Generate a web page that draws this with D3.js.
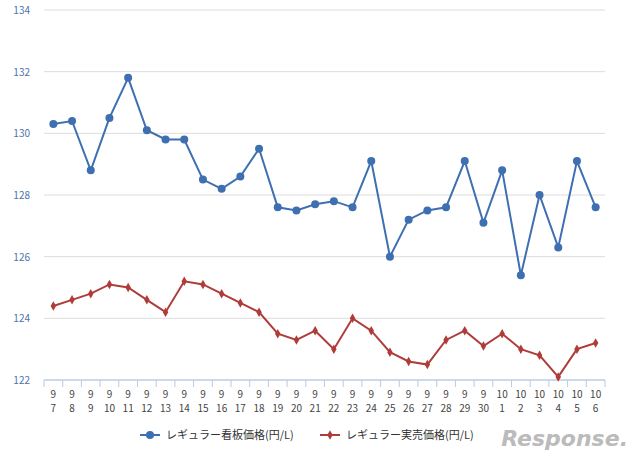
<!DOCTYPE html>
<html><head><meta charset="utf-8">
<script src="https://cdn.jsdelivr.net/npm/d3@7"></script>
<style>body{margin:0;background:#fff}</style>
</head><body><svg id="c" width="640" height="459"></svg>
<script>
const months = [9,9,9,9,9,9,9,9,9,9,9,9,9,9,9,9,9,9,9,9,9,9,9,9,10,10,10,10,10,10];
const days = [7,8,9,10,11,12,13,14,15,16,17,18,19,20,21,22,23,24,25,26,27,28,29,30,1,2,3,4,5,6];
const signPrice = [130.3,130.4,128.8,130.5,131.8,130.1,129.8,129.8,128.5,128.2,128.6,129.5,127.6,127.5,127.7,127.8,127.6,129.1,126.0,127.2,127.5,127.6,129.1,127.1,128.8,125.4,128.0,126.3,129.1,127.6];
const realPrice = [124.4,124.6,124.8,125.1,125.0,124.6,124.2,125.2,125.1,124.8,124.5,124.2,123.5,123.3,123.6,123.0,124.0,123.6,122.9,122.6,122.5,123.3,123.6,123.1,123.5,123.0,122.8,122.1,123.0,123.2];
const yTicks = [122,124,126,128,130,132,134];
const seriesNames = ["レギュラー看板価格(円/L)","レギュラー実売価格(円/L)"];

const svg = d3.select("#c");
const font = "'Noto Sans CJK JP', 'DejaVu Sans', sans-serif";
const idx = d3.range(days.length);
const x = d3.scaleBand().domain(idx).range([44, 605]);
const y = d3.scaleLinear().domain([122,134]).range([380, 10]);

// grid
svg.append("g").selectAll("line").data(yTicks.slice(1)).join("line")
  .attr("x1", 44).attr("x2", 605).attr("y1", d => y(d)).attr("y2", d => y(d))
  .attr("stroke", "#dcdcdc").attr("stroke-width", 1);
svg.append("g").selectAll("text").data(yTicks).join("text")
  .attr("x", 30).attr("y", d => y(d) + 4).attr("text-anchor", "end")
  .attr("font-family", font).attr("font-size", 10).attr("fill", "#4f72a8")
  .text(d => d);

// x axis
svg.append("line").attr("x1", 44).attr("x2", 605).attr("y1", 380).attr("y2", 380)
  .attr("stroke", "#b8cce4").attr("stroke-width", 1.5);
svg.append("g").selectAll("line").data(idx.concat([idx.length])).join("line")
  .attr("x1", d => 44 + d * x.step()).attr("x2", d => 44 + d * x.step())
  .attr("y1", 380).attr("y2", 387).attr("stroke", "#b8cce4");
const lab = svg.append("g").selectAll("g").data(idx).join("g")
  .attr("font-family", font).attr("font-size", 10).attr("fill", "#444").attr("text-anchor", "middle");
lab.append("text").attr("x", d => x(d) + x.bandwidth()/2).attr("y", 398).text(d => months[d]);
lab.append("text").attr("x", d => x(d) + x.bandwidth()/2).attr("y", 412).text(d => days[d]);

const cx = i => x(i) + x.bandwidth()/2;
const line = d3.line().x((d,i) => cx(i)).y(d => y(d));
const blue = "#3e6fb0", red = "#b03c3a";

svg.append("path").datum(signPrice).attr("d", line).attr("fill", "none").attr("stroke", blue).attr("stroke-width", 2);
svg.append("g").selectAll("circle").data(signPrice).join("circle")
  .attr("cx", (d,i) => cx(i)).attr("cy", d => y(d)).attr("r", 4).attr("fill", blue);

svg.append("path").datum(realPrice).attr("d", line).attr("fill", "none").attr("stroke", red).attr("stroke-width", 2);
const diamond = d3.symbol().type(d3.symbolDiamond).size(26);
svg.append("g").selectAll("path").data(realPrice).join("path")
  .attr("d", diamond).attr("transform", (d,i) => `translate(${cx(i)},${y(d)})`).attr("fill", red);

// legend
const leg = [{c: blue, t: seriesNames[0], x: 140, m: "c"}, {c: red, t: seriesNames[1], x: 320, m: "d"}];
leg.forEach(l => {
  svg.append("line").attr("x1", l.x).attr("x2", l.x + 20).attr("y1", 435).attr("y2", 435).attr("stroke", l.c).attr("stroke-width", 2);
  if (l.m === "c") svg.append("circle").attr("cx", l.x + 10).attr("cy", 435).attr("r", 4).attr("fill", l.c);
  else svg.append("path").attr("d", diamond).attr("transform", `translate(${l.x+10},435)`).attr("fill", l.c);
  svg.append("text").attr("x", l.x + 26).attr("y", 439).attr("font-family", font).attr("font-size", 11)
    .attr("fill", "#333").text(l.t);
});

svg.append("text").attr("x", 628).attr("y", 446).attr("text-anchor", "end")
  .attr("font-family", "'DejaVu Sans', sans-serif").attr("font-size", 22).attr("font-weight", "bold")
  .attr("font-style", "italic").attr("fill", "#bbb").text("Response.");
</script></body></html>
